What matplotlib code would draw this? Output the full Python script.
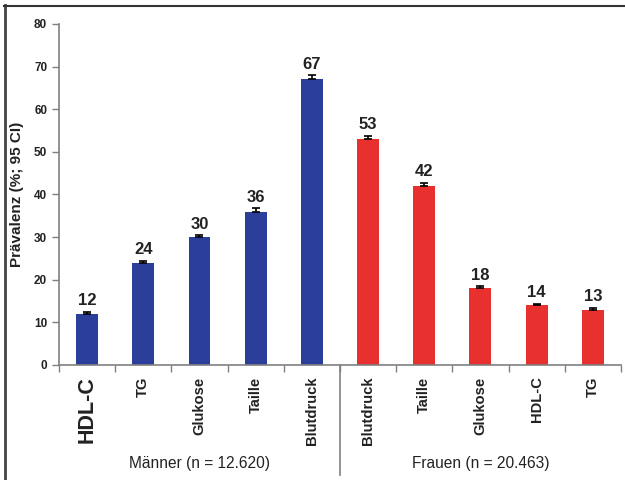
import matplotlib
matplotlib.use("Agg")
import matplotlib.pyplot as plt
from matplotlib.lines import Line2D
import numpy as np

plt.rcParams['font.family'] = ['Liberation Sans', 'DejaVu Sans']

categories = ["HDL-C", "TG", "Glukose", "Taille", "Blutdruck",
              "Blutdruck", "Taille", "Glukose", "HDL-C", "TG"]
values = [12, 24, 30, 36, 67, 53, 42, 18, 14, 13]
errors = [0.5, 0.5, 0.4, 0.8, 1.0, 0.8, 0.8, 0.5, 0.4, 0.4]
groups = ["Männer (n = 12.620)", "Frauen (n = 20.463)"]
group_sizes = [5, 5]
colors = ["#2b3f9a"] * 5 + ["#e8302f"] * 5

fig = plt.figure(figsize=(6.25, 4.8), dpi=100)
ax = fig.add_axes([0.0944, 0.2396, 0.899, 0.7104])

x = np.arange(len(categories))
ax.bar(x, values, width=0.39, color=colors, zorder=2)
ax.errorbar(x, values, yerr=[np.zeros(len(errors)), errors], fmt='none',
            ecolor='black', elinewidth=1.2, capsize=3, capthick=1.2, zorder=3)
for xi, v, e in zip(x, values, errors):
    ax.text(xi, v + e + 0.8, str(v), ha='center', va='bottom',
            fontsize=12, fontweight='bold', color='#222222')

ax.set_xlim(-0.5, len(categories) - 0.5)
ax.set_ylim(0, 80)
ax.set_yticks(np.arange(0, 81, 10))
ax.tick_params(axis='y', labelsize=8.5, colors='#808080', length=5, width=1,
               labelcolor='#222222')
for lbl in ax.get_yticklabels():
    lbl.set_fontweight('bold')

ax.set_xticks(np.arange(-0.5, len(categories), 1.0))
ax.set_xticklabels([])
ax.tick_params(axis='x', length=5, width=1, colors='#808080')

for sp in ['top', 'right']:
    ax.spines[sp].set_visible(False)
for sp in ['left', 'bottom']:
    ax.spines[sp].set_color('#808080')
    ax.spines[sp].set_linewidth(1.2)

ax.set_ylabel("Prävalenz (%; 95 CI)", fontsize=11, fontweight='bold',
              color='#222222', labelpad=7)

# category labels (rotated)
for i, c in enumerate(categories):
    fs = 15.5 if i == 0 else 10.6
    ax.text(i, -2.7, c, rotation=90, ha='center', va='top', fontsize=fs,
            fontweight='bold', color='#222222', transform=ax.transData,
            clip_on=False)

# group labels and separator
start = 0
for g, n in zip(groups, group_sizes):
    center = start + (n - 1) / 2
    ax.text(center, -23.0, g, ha='center', va='center', fontsize=11.2,
            color='#222222', clip_on=False)
    start += n
sep = group_sizes[0] - 0.5
ax.plot([sep, sep], [0, -25.7], color='#808080', lw=1.2, clip_on=False)

# outer frame (left and top visible)
fig.add_artist(Line2D([0.008, 0.008], [0, 0.99], transform=fig.transFigure,
                      color='#444444', lw=2))
fig.add_artist(Line2D([0.007, 1.0], [0.988, 0.988], transform=fig.transFigure,
                      color='#333333', lw=1.5))

fig.savefig("out.png", dpi=100)
